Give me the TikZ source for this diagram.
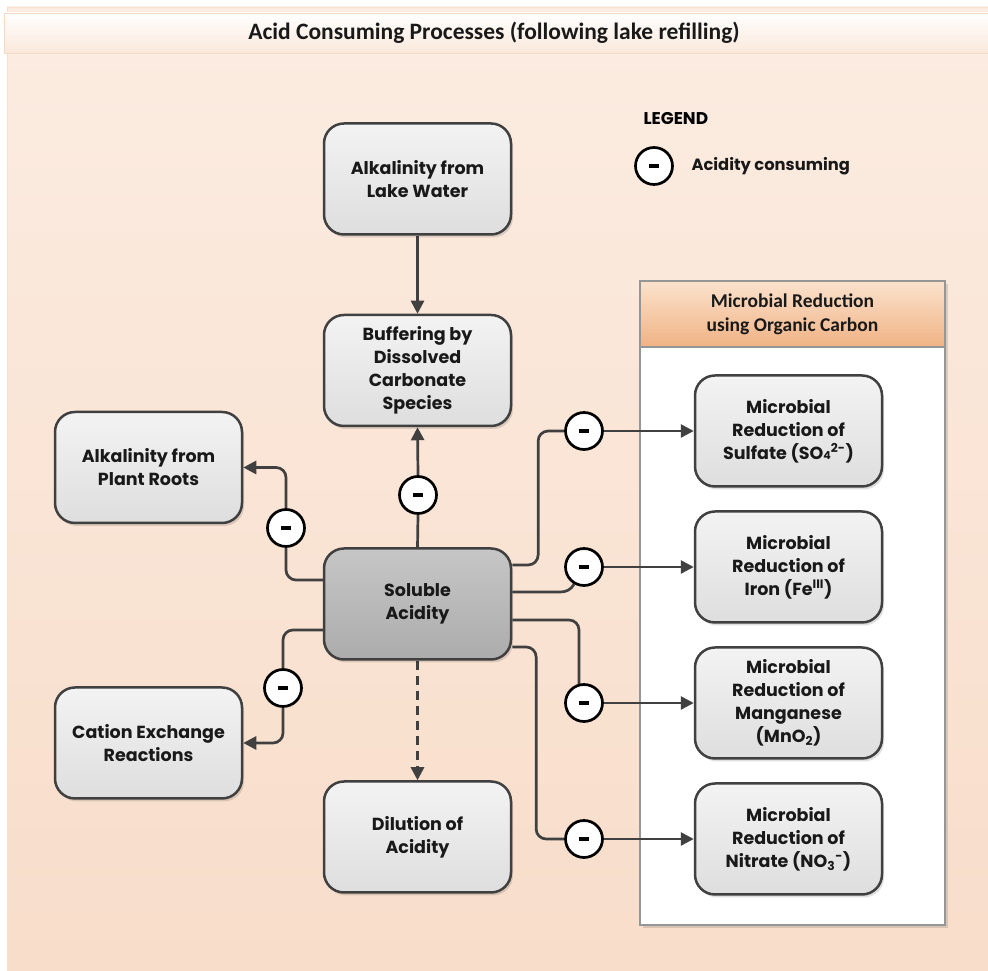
\documentclass[tikz,border=0pt]{standalone}
\usepackage{fontspec}
\setmainfont{Carlito}
\newfontfamily\gothic{Poppins}
\usetikzlibrary{arrows.meta,calc,shadows}
\definecolor{peachtop}{RGB}{251,236,225}
\definecolor{peachbot}{RGB}{248,221,202}
\definecolor{linegray}{RGB}{64,64,64}
\definecolor{boxtop}{RGB}{243,243,243}
\definecolor{boxbot}{RGB}{222,222,222}
\definecolor{soltop}{RGB}{198,198,198}
\definecolor{solbot}{RGB}{172,172,172}
\definecolor{headtop}{RGB}{251,226,205}
\definecolor{headbot}{RGB}{240,178,132}
\definecolor{panelline}{RGB}{150,150,150}
\pgfdeclarelayer{back}
\pgfdeclarelayer{lines}
\pgfsetlayers{back,lines,main}
\tikzset{
  procbox/.style={draw=linegray, line width=2.5pt, rounded corners=20pt,
    top color=boxtop, bottom color=boxbot,
    minimum width=187pt, minimum height=111pt, align=center,
    font=\gothic\bfseries\fontsize{17.5}{23}\selectfont, text=black!90,
    drop shadow={shadow xshift=2pt, shadow yshift=-3pt, opacity=0.12, fill=black}},
  solbox/.style={procbox, top color=soltop, bottom color=solbot},
  minus/.style={circle, draw=black, line width=2.7pt, fill=white,
    minimum size=37pt, inner sep=0pt,
    path picture={\fill[black] ($(path picture bounding box.center)+(-5,-1.6)$) rectangle ++(10,3.2);}},
  conn/.style={draw=linegray, line width=2.7pt, rounded corners=10pt},
  arr/.style={conn, -{Triangle[length=13pt,width=13pt]}},
}
\begin{document}
\begin{tikzpicture}[x=1pt,y=1pt]
\useasboundingbox (0,0) rectangle (988,971);

% page background and title band
\begin{pgfonlayer}{back}
  \fill[white] (0,0) rectangle (988,971);
  \shade[top color=peachtop, bottom color=peachbot, draw=peachbot!85!brown!60]
    (7,-2) rectangle (992,964);
  \shade[top color=white, bottom color=peachtop!70!peachbot,
    draw=peachbot!80!brown!70, line width=0.8pt] (4,918) rectangle (992,958);
\end{pgfonlayer}
\node[font=\bfseries\fontsize{23.5}{26}\selectfont, text=black!90] (title) at (494,938)
  {Acid Consuming Processes (following lake refilling)};

% legend
\node[anchor=west, font=\gothic\bfseries\fontsize{17}{18}\selectfont] (legtitle) at (640,852) {LEGEND};
\node[minus] (legc) at (654,805) {};
\node[anchor=west, font=\gothic\bfseries\fontsize{16.3}{18}\selectfont, text=black!90] (legtext) at (688,805) {Acidity consuming};

% microbial reduction panel
\begin{pgfonlayer}{back}
  \fill[black, opacity=0.12] (643,43) rectangle (948,687);
  \fill[white] (640,46) rectangle (945,690);
  \shade[top color=headtop, bottom color=headbot] (640,624) rectangle (945,690);
  \draw[panelline, line width=1.2pt] (640,624) -- (945,624);
  \draw[panelline, line width=1.4pt] (640,46) rectangle (945,690);
\end{pgfonlayer}
\node[align=center, font=\bfseries\fontsize{19.5}{24}\selectfont, text=black!90] (panelhead) at (792.5,657)
  {Microbial Reduction\\using Organic Carbon};

% process boxes
\node[procbox] (lake) at (417.5,792) {Alkalinity from\\Lake Water};
\node[procbox] (buff) at (417.5,600.5) {Buffering by\\Dissolved\\Carbonate\\Species};
\node[procbox] (roots) at (148.5,503.5) {Alkalinity from\\Plant Roots};
\node[solbox] (sol) at (417.5,367) {Soluble\\Acidity};
\node[procbox] (cation) at (148.5,228) {Cation Exchange\\Reactions};
\node[procbox] (dil) at (417.5,134) {Dilution of\\Acidity};
\node[procbox] (sulf) at (788.5,540) {Microbial\\Reduction of\\Sulfate (SO{\fontsize{11}{11}\selectfont 4}\textsuperscript{2-})};
\node[procbox] (iron) at (788.5,404) {Microbial\\Reduction of\\Iron (Fe\textsuperscript{III})};
\node[procbox] (mang) at (788.5,268) {Microbial\\Reduction of\\Manganese\\(MnO\textsubscript{2})};
\node[procbox] (nitr) at (788.5,132) {Microbial\\Reduction of\\Nitrate (NO\textsubscript{3}\textsuperscript{-})};

% acidity consuming markers
\node[minus] (cu) at (418,476) {};
\node[minus] (cr) at (286,443) {};
\node[minus] (cc) at (283,283) {};
\node[minus] (cs) at (584,540) {};
\node[minus] (ci) at (584,404) {};
\node[minus] (cm) at (584,268) {};
\node[minus] (cn) at (584,132) {};

% connectors
\begin{pgfonlayer}{lines}
  \draw[arr] (lake.south) -- (buff.north);
  \draw[conn] (sol.north) -- (cu.south);
  \draw[arr] (cu.north) -- (buff.south);
  \draw[arr, dashed, dash pattern=on 9pt off 6pt, rounded corners=0pt] (sol.south) -- (dil.north);

  \draw[conn] ($(sol.west)+(0,24)$) -| (cr.south);
  \draw[arr] (cr.north) |- (roots.east);
  \draw[conn] ($(sol.west)+(0,-26)$) -| (cc.north);
  \draw[arr] (cc.south) |- (cation.east);

  \draw[conn] ($(sol.east)+(0,39)$) -| ($(cs.west)+(-26,0)$) -- (cs.west);
  \draw[arr] (cs.east) -- (sulf.west);
  \draw[conn, rounded corners=0pt] ($(sol.east)+(0,12)$) -- ++(48,0) to[out=0,in=-120] (ci.-120);
  \draw[arr] (ci.east) -- (iron.west);
  \draw[conn] ($(sol.east)+(0,-16)$) -| ($(cm.north)+(-5,-6)$);
  \draw[arr] (cm.east) -- (mang.west);
  \draw[conn] ($(sol.east)+(0,-43)$) -| ($(cn.west)+(-28,0)$) -- (cn.west);
  \draw[arr] (cn.east) -- (nitr.west);
\end{pgfonlayer}
\end{tikzpicture}
\end{document}
